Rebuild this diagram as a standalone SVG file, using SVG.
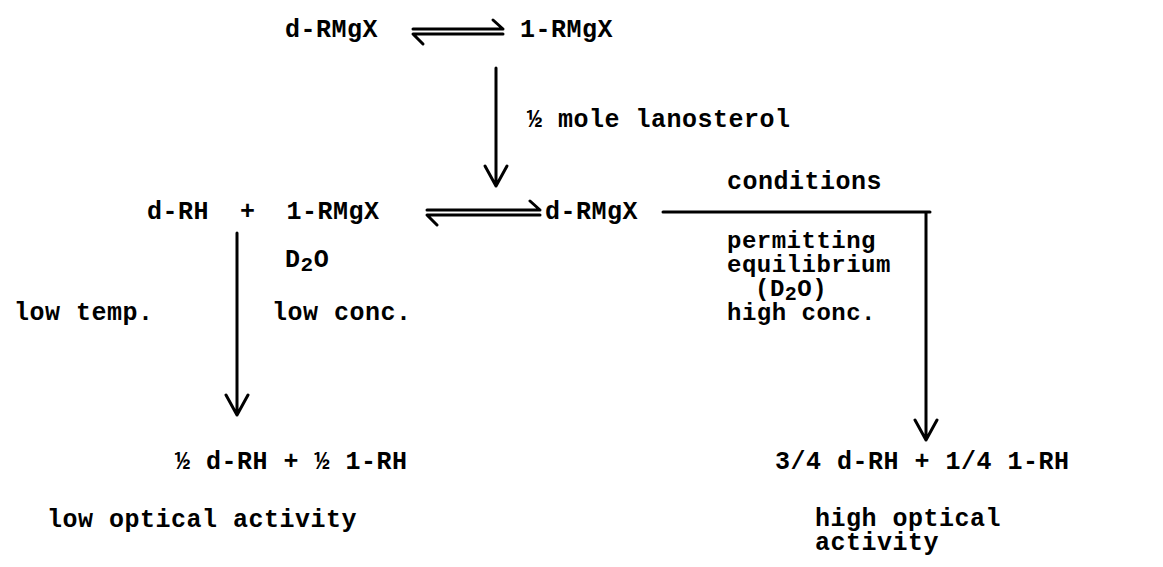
<svg xmlns="http://www.w3.org/2000/svg" width="1163" height="567" viewBox="0 0 1163 567">
<style>
text{font-family:"Liberation Mono","DejaVu Sans Mono",monospace;font-weight:bold;font-size:25px;letter-spacing:0.5px;fill:#000;white-space:pre}
.st{font-size:24px}
.ln{stroke:#000;stroke-width:3;fill:none;stroke-linecap:round;stroke-linejoin:round}
.eq{stroke:#000;stroke-width:3;fill:none;stroke-linecap:round;stroke-linejoin:round}
</style>
<rect width="1163" height="567" fill="#fff"/>
<g id="connectors">
<path class="eq" d="M413 29 H503 L493 20 M503 34 H413 L423 44"/>
<path class="ln" d="M496 68 V186 M485 166 L496 186 L507 166"/>
<path class="eq" d="M427 210 H540 L530 201 M540 215 H427 L437 225"/>
<path class="ln" d="M663 212 H930 M926 212 V440 M915 420 L926 440 L937 420"/>
<path class="ln" d="M237 233 V415 M226 395 L237 415 L248 395"/>
</g>
<g id="n1"><text x="285" y="37">d-RMgX</text></g>
<g id="n2"><text x="520" y="37">1-RMgX</text></g>
<g id="l1"><text x="527" y="127">½ mole lanosterol</text></g>
<g id="n3"><text x="147" y="219" xml:space="preserve">d-RH  +  1-RMgX</text></g>
<g id="n4"><text x="545" y="219">d-RMgX</text></g>
<g id="l2"><text x="727" y="189">conditions</text><text class="st" x="727" y="248">permitting</text><text class="st" x="727" y="272">equilibrium</text><text class="st" x="755" y="296">(D<tspan font-size="20" dy="4">2</tspan><tspan dy="-4">O)</tspan></text><text class="st" x="727" y="320">high conc.</text></g>
<g id="l3"><text x="285" y="267">D<tspan font-size="21" dy="4">2</tspan><tspan dy="-4">O</tspan></text><text x="14" y="320">low temp.</text><text x="272" y="320">low conc.</text></g>
<g id="n5"><text x="175" y="469">½ d-RH + ½ 1-RH</text><text x="47" y="527">low optical activity</text></g>
<g id="n6"><text x="775" y="469">3/4 d-RH + 1/4 1-RH</text><text x="815" y="526">high optical</text><text x="815" y="550">activity</text></g>
</svg>
